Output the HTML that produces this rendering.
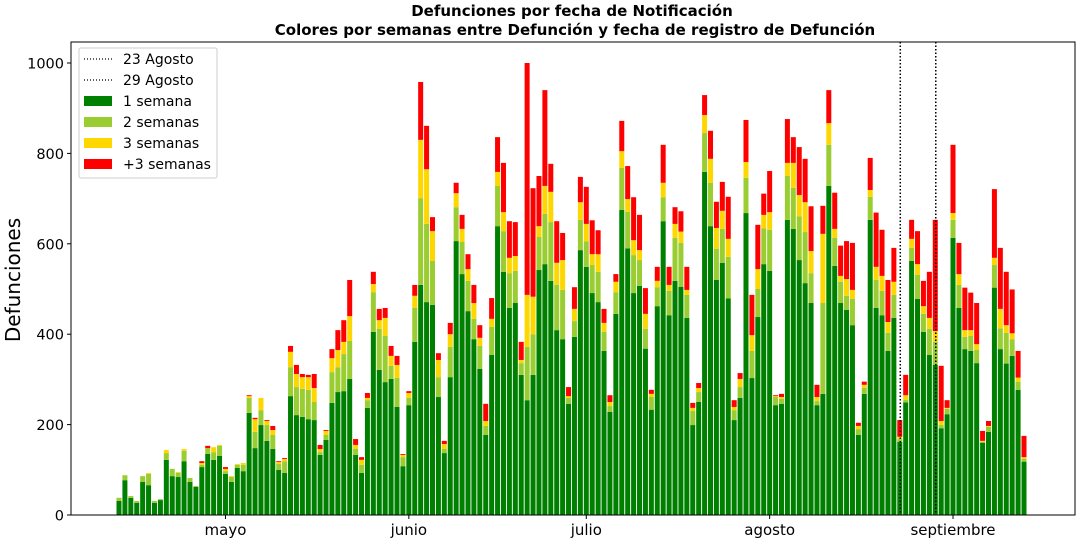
<!DOCTYPE html>
<html><head><meta charset="utf-8">
<style>
html,body{margin:0;padding:0;background:#fff;}
svg{display:block;font-family:"DejaVu Sans","Liberation Sans",sans-serif;}
</style></head>
<body>
<svg id="chart" width="1080" height="540" viewBox="0 0 1080 540" xmlns="http://www.w3.org/2000/svg">
<text x="572" y="16" text-anchor="middle" font-size="15" font-weight="bold">Defunciones por fecha de Notificación</text>
<text x="575" y="35" text-anchor="middle" font-size="15" font-weight="bold">Colores por semanas entre Defunción y fecha de registro de Defunción</text>
<text transform="translate(20,280) rotate(-90)" text-anchor="middle" font-size="20">Defunciones</text>
<g id="bars"></g>
<g id="yticks"></g>
<g id="xticks"></g>
<g id="vlines"></g>
<rect x="71" y="42" width="1004" height="473" fill="none" stroke="#000" stroke-width="1"/>
<g>
<rect x="79" y="48" width="138" height="130" rx="2" fill="#fff" fill-opacity="0.85" stroke="#ccc"/>
<line x1="84" y1="59" x2="112" y2="59" stroke="#000" stroke-dasharray="1,2" stroke-width="1.3"/>
<text x="123" y="64" font-size="14">23 Agosto</text>
<line x1="84" y1="80" x2="112" y2="80" stroke="#000" stroke-dasharray="1,2" stroke-width="1.3"/>
<text x="123" y="85" font-size="14">29 Agosto</text>
<rect x="84" y="96" width="28" height="10" fill="#008000"/>
<text x="123" y="106" font-size="14">1 semana</text>
<rect x="84" y="117" width="28" height="10" fill="#9acd32"/>
<text x="123" y="127" font-size="14">2 semanas</text>
<rect x="84" y="138" width="28" height="10" fill="#ffd700"/>
<text x="123" y="148" font-size="14">3 semanas</text>
<rect x="84" y="159" width="28" height="10" fill="#ff0000"/>
<text x="123" y="169" font-size="14">+3 semanas</text>
</g>
</svg>
<script>
// days since 13 April; one bar per day
const week1 = [31,77,38,27,73,66,27,33,122,86,84,119,73,62,106,135,122,131,91,73,104,97,226,148,199,164,146,100,93,263,221,217,212,210,133,166,248,272,274,301,133,93,237,405,321,294,301,239,108,243,383,509,471,465,261,137,305,606,533,451,389,323,177,354,639,538,458,469,310,254,310,542,555,518,409,389,246,394,586,549,491,471,363,228,445,675,590,491,507,368,233,462,650,442,518,505,436,199,250,759,639,520,558,479,210,259,668,303,438,555,540,243,246,653,633,564,513,469,243,268,728,551,469,454,420,177,268,653,458,442,363,436,162,249,562,478,405,354,332,192,223,613,458,367,363,336,160,184,503,367,335,352,277,118];
const week2 = [7,11,4,4,13,25,4,2,15,16,9,23,9,2,5,13,17,22,6,11,7,14,33,36,33,35,31,13,26,64,62,62,65,40,6,11,68,55,82,84,13,18,17,88,91,102,29,64,20,16,75,192,173,97,44,9,67,75,71,67,45,51,20,62,89,90,77,71,26,118,90,73,111,130,100,109,13,35,67,56,62,67,42,13,48,93,81,84,57,44,28,42,53,54,95,97,51,31,22,86,96,69,75,92,22,24,78,60,62,79,91,18,11,97,91,97,113,66,9,201,91,62,47,31,58,13,13,51,62,54,40,51,6,6,29,53,40,58,51,7,12,40,51,27,33,29,2,11,50,46,68,37,18,6];
const week3 = [0,0,0,0,0,2,0,0,7,0,2,4,0,0,4,0,11,2,5,2,2,4,4,28,27,9,11,4,5,34,29,26,28,31,7,9,31,38,27,55,9,11,5,18,19,40,22,29,5,11,27,129,121,66,38,11,28,31,29,26,35,18,11,18,31,42,34,33,7,115,83,24,62,67,49,66,4,27,39,39,24,39,20,9,23,37,28,33,22,33,7,14,32,13,31,25,11,7,9,40,53,46,40,40,7,18,35,35,44,30,39,2,4,29,55,47,66,49,9,153,48,20,13,37,20,7,7,15,29,33,24,29,5,10,20,24,17,24,24,9,2,15,24,15,13,13,2,2,16,43,17,13,9,4];
const week4plus = [0,0,0,0,0,0,0,0,0,0,0,0,0,0,4,5,0,0,4,0,0,0,2,3,0,2,9,2,2,13,20,7,5,31,9,2,20,44,48,80,13,6,11,27,25,22,22,20,2,4,24,128,96,31,15,7,25,23,31,33,40,28,38,46,77,109,81,75,40,513,240,111,212,62,92,60,20,48,56,82,75,53,31,15,17,67,73,95,78,57,9,31,84,40,37,45,51,11,11,44,62,58,64,93,15,13,93,89,98,47,91,2,7,97,57,106,96,99,27,62,73,80,67,84,104,7,7,71,120,102,93,75,37,45,42,73,56,102,246,122,17,151,69,94,83,91,22,11,152,135,118,97,59,47];
const seriesColors = ["#008000","#9acd32","#ffd700","#ff0000"];
const seriesNames = ["1-semana","2-semanas","3-semanas","plus-3-semanas"];
const yTicks = [0,200,400,600,800,1000];
const monthLabels = ["mayo","junio","julio","agosto","septiembre"];
const monthDays = [18,49,79,110,141];
const refLineDays = [132,138];

const NS="http://www.w3.org/2000/svg";
const x0=119, dx=5.915, barW=5;
const xPos = d => x0 + d*dx;
const yBase=515, yScale=0.452;
const yPos = v => yBase - v*yScale;
function mk(tag, attrs, parent){const e=document.createElementNS(NS,tag);for(const k in attrs)e.setAttribute(k,attrs[k]);parent.appendChild(e);return e;}

const series=[week1,week2,week3,week4plus];
const gb=document.getElementById('bars');
for(let i=0;i<week1.length;i++){
  let cum=0;
  for(let s=0;s<4;s++){
    const v=series[s][i];
    if(v<=0){continue;}
    const r=mk('rect',{x:(xPos(i)-barW/2).toFixed(2),y:yPos(cum+v).toFixed(2),width:barW,height:(v*yScale).toFixed(2),fill:seriesColors[s]},gb);
    
    
    cum+=v;
  }
}
const gy=document.getElementById('yticks');
yTicks.forEach(t=>{
  const y=yPos(t);
  const l=mk('line',{x1:67,x2:71,y1:y,y2:y,stroke:'#000'},gy);
  
  
  const tx=mk('text',{x:64,y:y+5.5,'text-anchor':'end','font-size':'14.5'},gy);
  tx.textContent=t;
  
  
});
const gx=document.getElementById('xticks');
monthLabels.forEach((m,k)=>{
  const x=xPos(monthDays[k]);
  const l=mk('line',{x1:x,x2:x,y1:515,y2:519,stroke:'#000'},gx);
  
  
  const tx=mk('text',{x:x,y:535,'text-anchor':'middle','font-size':'15'},gx);
  tx.textContent=m;
  
  
});
const gv=document.getElementById('vlines');
refLineDays.forEach(d=>{
  const x=xPos(d)+0.5;
  const l=mk('line',{x1:x,x2:x,y1:42,y2:515,stroke:'#000','stroke-width':1.5,'stroke-dasharray':'1.5,2'},gv);
  
  
});
</script>
</body></html>
